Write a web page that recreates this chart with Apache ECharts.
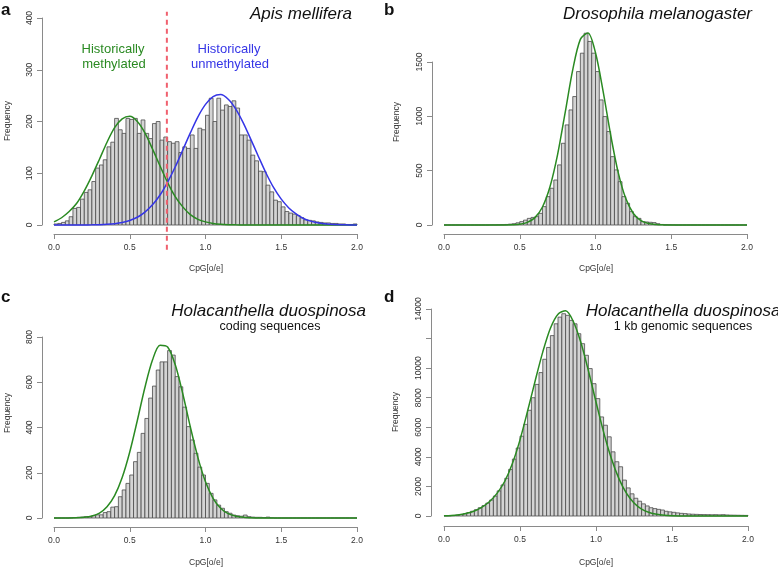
<!DOCTYPE html>
<html><head><meta charset="utf-8">
<script src="https://cdn.jsdelivr.net/npm/echarts@6/dist/echarts.min.js"></script>
<style>html,body{margin:0;padding:0;background:#fff}#c{width:778px;height:567px}</style>
</head><body><div id="c"></div>
<script>
// ---- data ----
const binWidth = 0.025; // histogram bins from 0 to 2
const xTickLabels = ['0.0', '0.5', '1.0', '1.5', '2.0'];
const curveX = [0,0.05,0.1,0.15,0.2,0.25,0.3,0.35,0.4,0.45,0.5,0.55,0.6,0.65,0.7,0.75,0.8,0.85,0.9,0.95,1.0,
  1.05,1.1,1.15,1.2,1.25,1.3,1.35,1.4,1.45,1.5,1.55,1.6,1.65,1.7,1.75,1.8,1.85,1.9,1.95,2.0];
const threshold = 0.745;

const apisCounts = [2,3,5,8,16,32,34,50,63,68,84,110,116,126,151,160,206,184,177,206,
  204,206,177,203,177,167,196,200,164,170,161,158,161,140,151,148,174,148,187,184,
  212,245,200,245,222,232,229,240,226,174,174,164,135,124,104,103,77,64,48,45,
  35,26,23,21,18,14,10,9,8,6,5,4,4,3,3,2,2,1,1,2];
const apisMethylCurve = [6,14,26,42,66,95,127,160,188,205,210,200,178,147,114,82,55,35,20,11,6,
  3,1.5,0.7,0.3,0.1,0,0,0,0,0,0,0,0,0,0,0,0,0,0,0];
const apisUnmethylCurve = [0,0,0,0,0.1,0.3,0.6,1.3,2.6,4.9,8.8,15,25,39,58,83,112,145,178,209,233,
  248,252,243,224,197,165,132,100,72,50,33,21,12,7,3.8,2,1,0.5,0.2,0.1];

const drosoCounts = [0,0,0,0,0,0,0,0,0,0,0,0,1,1,2,3,5,8,12,20,
  31,45,61,70,77,107,169,261,338,414,553,752,921,1059,1182,1412,1581,1765,1689,1581,
  1412,1151,998,860,629,507,399,261,200,123,77,61,31,28,25,22,12,5,3,2,
  1,0,0,0,0,0,0,0,0,0,0,0,0,0,0,0,0,0,0,0];
const drosoCurve = [0,0,0,0,0,0,0,0,0.5,2,7,24,68,166,354,650,1036,1430,1708,1768,1585,
  1231,829,482,243,106,40,13,4,1,0,0,0,0,0,0,0,0,0,0,0];

const holaCdsCounts = [0,0,0,0,1,2,3,4,6,5,10,14,14,24,28,48,50,94,124,153,
  190,249,290,374,440,530,583,654,690,690,740,720,625,580,490,404,345,286,225,190,
  153,109,80,57,43,28,21,13,10,8,13,6,4,3,3,2,4,1,0,0,
  0,0,0,0,0,0,0,0,0,0,0,0,0,0,0,0,0,0,0,0];
const holaCdsCurve = [0,0,0.3,1.1,3.4,9,22,50,99,179,292,431,577,698,764,756,678,549,402,267,160,
  87,43,19,7.6,2.8,1,0,0,0,0,0,0,0,0,0,0,0,0,0,0];

const holaGenCounts = [10,20,35,60,100,150,230,320,430,560,700,870,1080,1350,1700,2100,2550,3150,3850,4600,
  5400,6200,7150,8000,8900,9700,10600,11400,12200,13000,13450,13680,13570,13230,13000,12330,11655,10870,9970,8950,
  7940,6700,6140,5355,4340,3670,3330,2430,1900,1500,1200,1000,820,680,560,500,450,405,320,280,
  250,210,180,160,135,120,110,100,95,90,85,90,80,90,70,60,55,50,45,40];
const holaGenCurve = [15,35,90,180,340,600,980,1550,2350,3550,5150,7100,9150,11100,12700,13650,13880,13170,11747,9823,7709,
  5675,3918,2542,1545,881,472,237,112,50,21,8,3,1,0,0,0,0,0,0,0];

// ---- chart ----
const FONT = 'Liberation Sans, Arial, Helvetica, sans-serif';
const grids = [
  {left: 54, top: 18, width: 303, height: 207},
  {left: 444, top: 62, width: 303, height: 163},
  {left: 54, top: 337, width: 303, height: 181},
  {left: 444, top: 309, width: 304, height: 207}
];
const yCfg = [
  {max: 400, interval: 100, xOff: 9, yOff: 12},
  {max: 1500, interval: 500, xOff: 9, yOff: 12},
  {max: 800, interval: 200, xOff: 9, yOff: 12},
  {max: 14000, interval: 2000, xOff: 10, yOff: 13}
];
const axisColor = '#8a8a8a';
const xAxes = yCfg.map((c, i) => ({
  type: 'value', gridIndex: i, min: 0, max: 2, interval: 0.5, offset: c.xOff,
  axisLine: {show: true, onZero: false, lineStyle: {color: axisColor, width: 1}},
  axisTick: {show: true, length: 5, lineStyle: {color: axisColor}},
  axisLabel: {fontSize: 8.5, color: '#333', margin: 9, fontFamily: FONT,
    formatter: v => xTickLabels[Math.round(v / 0.5)]},
  splitLine: {show: false}
}));
const yAxes = yCfg.map((c, i) => ({
  type: 'value', gridIndex: i, min: 0, max: c.max, interval: c.interval, offset: c.yOff,
  axisLine: {show: true, onZero: false, lineStyle: {color: axisColor, width: 1}},
  axisTick: {show: true, length: 5, lineStyle: {color: axisColor}},
  axisLabel: {fontSize: 8.5, color: '#333', margin: 8, rotate: 90, fontFamily: FONT,
    formatter: v => (i === 3 && v === 12000) ? '' : String(v)},
  splitLine: {show: false}
}));

function histData(counts) {
  return counts.map((v, i) => [i * binWidth, (i + 1) * binWidth, v]);
}
function renderBar(params, api) {
  const p0 = api.coord([api.value(0), 0]);
  const p1 = api.coord([api.value(1), api.value(2)]);
  return {
    type: 'rect',
    shape: {x: p0[0], y: p1[1], width: p1[0] - p0[0], height: p0[1] - p1[1]},
    style: {fill: '#d4d4d4', stroke: '#4a4a4a', lineWidth: 0.8}
  };
}
function hist(counts, gi) {
  return {type: 'custom', xAxisIndex: gi, yAxisIndex: gi, renderItem: renderBar,
    data: histData(counts), clip: false, silent: true, z: 2};
}
function curve(vals, gi, color) {
  return {type: 'line', xAxisIndex: gi, yAxisIndex: gi, data: curveX.map((x, i) => [x, vals[i]]),
    smooth: 0.3, symbol: 'none', clip: false, z: 4,
    lineStyle: {color: color, width: 1.5}};
}
const green = '#2a8a22';
const blue = '#3535e6';

const series = [
  hist(apisCounts, 0), curve(apisMethylCurve, 0, green), curve(apisUnmethylCurve, 0, blue),
  {type: 'line', xAxisIndex: 0, yAxisIndex: 0, data: [[threshold, -48], [threshold, 412]],
    symbol: 'none', clip: false, z: 5, lineStyle: {color: '#f0606e', width: 2, type: [5, 4]}},
  hist(drosoCounts, 1), curve(drosoCurve, 1, green),
  hist(holaCdsCounts, 2), curve(holaCdsCurve, 2, green),
  hist(holaGenCounts, 3), curve(holaGenCurve, 3, green)
];

function txt(text, x, y, font, opts) {
  opts = opts || {};
  return {type: 'text', x: x, y: y, rotation: opts.rot || 0, z: 10,
    style: {text: text, font: font, fill: opts.fill || '#111', align: opts.align || 'center', verticalAlign: 'middle'}};
}
const graphic = [
  txt('a', 1, 10, 'bold 17px ' + FONT, {align: 'left'}),
  txt('b', 384, 10, 'bold 17px ' + FONT, {align: 'left'}),
  txt('c', 1, 297, 'bold 17px ' + FONT, {align: 'left'}),
  txt('d', 384, 297, 'bold 17px ' + FONT, {align: 'left'}),
  txt('Apis mellifera', 352, 14, 'italic 17px ' + FONT, {align: 'right'}),
  txt('Drosophila melanogaster', 752, 14, 'italic 17px ' + FONT, {align: 'right'}),
  txt('Holacanthella duospinosa', 366, 311, 'italic 17px ' + FONT, {align: 'right'}),
  txt('coding sequences', 270, 327, '12.5px ' + FONT),
  txt('Holacanthella duospinosa', 683, 311, 'italic 17px ' + FONT),
  txt('1 kb genomic sequences', 683, 327, '12.5px ' + FONT),
  txt('Historically', 113, 49, '13px ' + FONT, {fill: green}),
  txt('methylated', 114, 64, '13px ' + FONT, {fill: green}),
  txt('Historically', 229, 49, '13px ' + FONT, {fill: blue}),
  txt('unmethylated', 230, 64, '13px ' + FONT, {fill: blue}),
  txt('Frequency', 8, 121, '8.5px ' + FONT, {rot: Math.PI / 2, fill: '#333'}),
  txt('Frequency', 397, 122, '8.5px ' + FONT, {rot: Math.PI / 2, fill: '#333'}),
  txt('Frequency', 8, 413, '8.5px ' + FONT, {rot: Math.PI / 2, fill: '#333'}),
  txt('Frequency', 396, 412, '8.5px ' + FONT, {rot: Math.PI / 2, fill: '#333'}),
  txt('CpG[o/e]', 206, 269, '8.5px ' + FONT, {fill: '#333'}),
  txt('CpG[o/e]', 596, 269, '8.5px ' + FONT, {fill: '#333'}),
  txt('CpG[o/e]', 206, 563, '8.5px ' + FONT, {fill: '#333'}),
  txt('CpG[o/e]', 596, 563, '8.5px ' + FONT, {fill: '#333'})
];

const chart = echarts.init(document.getElementById('c'), null, {renderer: 'canvas'});
chart.setOption({
  animation: false,
  backgroundColor: '#fff',
  grid: grids,
  xAxis: xAxes,
  yAxis: yAxes,
  series: series,
  graphic: graphic
});
</script></body></html>
